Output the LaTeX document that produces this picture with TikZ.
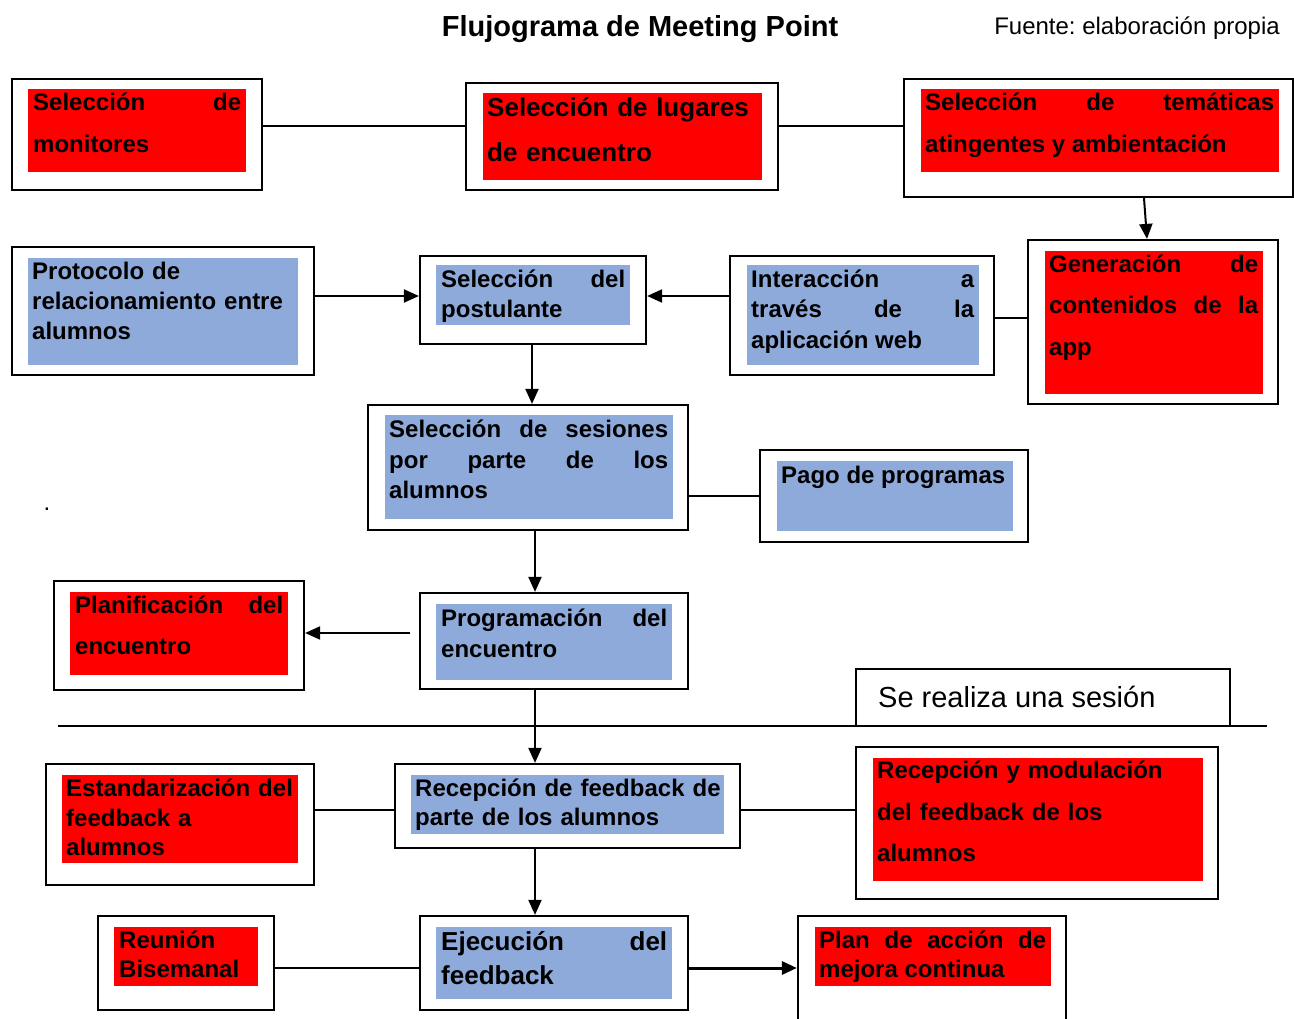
\documentclass[tikz,border=0pt]{standalone}
\usepackage{fontspec}
\setmainfont{Liberation Sans}
\usetikzlibrary{arrows.meta}
\definecolor{celeste}{HTML}{8EAADB}
\hyphenpenalty=10000
\exhyphenpenalty=10000
\tolerance=10000
\hbadness=10000
\frenchspacing

\begin{document}
\begin{tikzpicture}[x=1pt,y=-1pt,>={Triangle[length=15pt,width=13pt]},
caja/.style={shape=rectangle,draw=black,line width=2.2pt,fill=white,inner sep=0},
linea/.style={draw=black,line width=2pt},
rojo/.style={fill=red},
azul/.style={fill=celeste},
texto/.style={anchor=base west,inner sep=0,align=left,execute at begin node={\parindent=0pt},font=\bfseries\fontsize{24}{#1}\selectfont},
texto/.default=30,
justo/.style={align=justify,text width=#1},
izq/.style={align=left,text width=#1},
grande/.style={font=\bfseries\fontsize{26}{#1}\selectfont}]

\useasboundingbox (0,0) rectangle (1294,1019);
\clip (0,0) rectangle (1294,1019);

\node[font=\bfseries\fontsize{29}{34}\selectfont,inner sep=0] (titulo) at (640,29) {Flujograma de Meeting Point};
\node[anchor=east,font=\fontsize{24}{28}\selectfont,inner sep=0] (fuente) at (1280,28) {Fuente: elaboración propia};
\node[anchor=base,font=\fontsize{24}{28}\selectfont,inner sep=0] (punto) at (47,510) {.};

\node[caja,minimum width=250,minimum height=111] (monitores) at (137,134.5) {};
\fill[rojo] (28,89) rectangle (246,172);
\node[texto=42,justo=208] (monitorestxt) at (33,110.5) {Selección de\linebreak monitores};

\node[caja,minimum width=312,minimum height=107] (lugares) at (622,136.5) {};
\fill[rojo] (483,93) rectangle (762,180);
\node[texto,grande=45,izq=275] (lugarestxt) at (487,117) {Selección de lugares\\de encuentro};

\node[caja,minimum width=389,minimum height=118] (temas) at (1098.5,138) {};
\fill[rojo] (921,89) rectangle (1279,172);
\node[texto=42,justo=349] (temastxt) at (925,110.5) {Selección de temáticas\linebreak atingentes y ambientación};

\node[caja,minimum width=250,minimum height=164] (generacion) at (1153,322) {};
\fill[rojo] (1045,251) rectangle (1263,394);
\node[texto=41.5,justo=209] (generaciontxt) at (1049,272.5) {Generación de\linebreak contenidos de la\linebreak app};

\node[caja,minimum width=264,minimum height=119] (interaccion) at (862,315.5) {};
\fill[azul] (747,265) rectangle (979,365);
\node[texto=30.5,justo=223] (interacciontxt) at (751,287.5) {Interacción a\linebreak través de la\linebreak aplicación web};

\node[caja,minimum width=226,minimum height=88] (postulante) at (533,300) {};
\fill[azul] (436,265) rectangle (630,325);
\node[texto,justo=184] (postulantetxt) at (441,287.5) {Selección del\linebreak postulante};

\node[caja,minimum width=302,minimum height=128] (protocolo) at (163,311) {};
\fill[azul] (28,258) rectangle (298,365);
\node[texto=30,izq=266] (protocolotxt) at (32,279.5) {Protocolo de\\relacionamiento entre\\alumnos};

\node[caja,minimum width=320,minimum height=125] (sesiones) at (528,467.5) {};
\fill[azul] (385,415) rectangle (673,519);
\node[texto=30.5,justo=279] (sesionestxt) at (389,437.5) {Selección de sesiones\linebreak por parte de los\linebreak alumnos};

\node[caja,minimum width=268,minimum height=92] (pago) at (894,496) {};
\fill[azul] (777,461) rectangle (1013,531);
\node[texto] (pagotxt) at (781,483.5) {Pago de programas};

\node[caja,minimum width=268,minimum height=96] (programacion) at (554,641) {};
\fill[azul] (436,604) rectangle (672,680);
\node[texto=31,justo=226] (programaciontxt) at (441,626.5) {Programación del\linebreak encuentro};

\node[caja,minimum width=250,minimum height=109] (planificacion) at (179,635.5) {};
\fill[rojo] (70,592) rectangle (288,675);
\node[texto=41,justo=208] (planificaciontxt) at (75,613.5) {Planificación del\linebreak encuentro};

\node[minimum width=374,minimum height=57,inner sep=0] (sesion) at (1043,697.5) {};
\draw[linea] (sesion.south west) |- (sesion.north east) -- (sesion.south east);
\node[anchor=base west,inner sep=0,font=\fontsize{29}{34}\selectfont] (sesiontxt) at (878,707) {Se realiza una sesión};
\draw[linea] (58,726) -- (1267,726);

\node[caja,minimum width=268,minimum height=121] (estandarizacion) at (180,824.5) {};
\fill[rojo] (62,775) rectangle (298,863);
\node[texto=29.5,izq=236] (estandarizaciontxt) at (66,796.5) {Estandarización del\\feedback a\\alumnos};

\node[caja,minimum width=345,minimum height=84] (recepcion) at (567.5,806) {};
\fill[azul] (411,775) rectangle (724,834);
\node[texto=29,izq=309] (recepciontxt) at (415,796.5) {Recepción de feedback de\\parte de los alumnos};

\node[caja,minimum width=362,minimum height=152] (modulacion) at (1037,823) {};
\fill[rojo] (873,758) rectangle (1203,881);
\node[texto=41.5,izq=326] (modulaciontxt) at (877,778.5) {Recepción y modulación\\del feedback de los\\alumnos};

\node[caja,minimum width=176,minimum height=94] (reunion) at (186,963) {};
\fill[rojo] (114,927) rectangle (258,986);
\node[texto=29,izq=139] (reuniontxt) at (119,948.5) {Reunión\\Bisemanal};

\node[caja,minimum width=268,minimum height=94] (ejecucion) at (554,963) {};
\fill[azul] (436,927) rectangle (672,999);
\node[texto,grande=34,justo=226] (ejecuciontxt) at (441,950) {Ejecución del\linebreak feedback};

\node[caja,minimum width=268,minimum height=114] (plan) at (932,973) {};
\fill[rojo] (815,927) rectangle (1051,986);
\node[texto=29,justo=227] (plantxt) at (819,948.5) {Plan de acción de\linebreak mejora continua};

\draw[linea] ([yshift=8.5]monitores.east) -- ([yshift=10.5]lugares.west);
\draw[linea] ([yshift=10.5]lugares.east) -- ([yshift=12]temas.west);
\draw[linea,->] ([xshift=45.5]temas.south) -- ([xshift=-6]generacion.north);
\draw[linea] ([yshift=-2.5]interaccion.east) -- ([yshift=4]generacion.west);
\draw[linea,->] ([yshift=19.5]interaccion.west) -- ([yshift=4]postulante.east);
\draw[linea,->] ([yshift=15]protocolo.east) -- ([yshift=4]postulante.west);
\draw[linea,->] ([xshift=-1]postulante.south) -- ([xshift=-1]postulante.south |- sesiones.north);
\draw[linea] ([yshift=-28.5]sesiones.east) -- (pago.west);
\draw[linea,->] ([xshift=7]sesiones.south) -- ([xshift=7]sesiones.south |- programacion.north);
\draw[linea,->,shorten <=9pt] ([yshift=8]programacion.west) -- ([yshift=2.5]planificacion.east);
\draw[linea,->] ([xshift=-19]programacion.south) -- ([xshift=-19]programacion.south |- recepcion.north);
\draw[linea] ([yshift=14.5]estandarizacion.east) -- ([yshift=-4]recepcion.west);
\draw[linea] ([yshift=-4]recepcion.east) -- ([yshift=13]modulacion.west);
\draw[linea,->] ([xshift=-32.5]recepcion.south) -- ([xshift=-32.5]recepcion.south |- ejecucion.north);
\draw[linea] ([yshift=-5]reunion.east) -- ([yshift=-5]ejecucion.west);
\draw[linea,line width=3pt,->] ([yshift=-5]ejecucion.east) -- ([yshift=5]plan.west);

\end{tikzpicture}
\end{document}
